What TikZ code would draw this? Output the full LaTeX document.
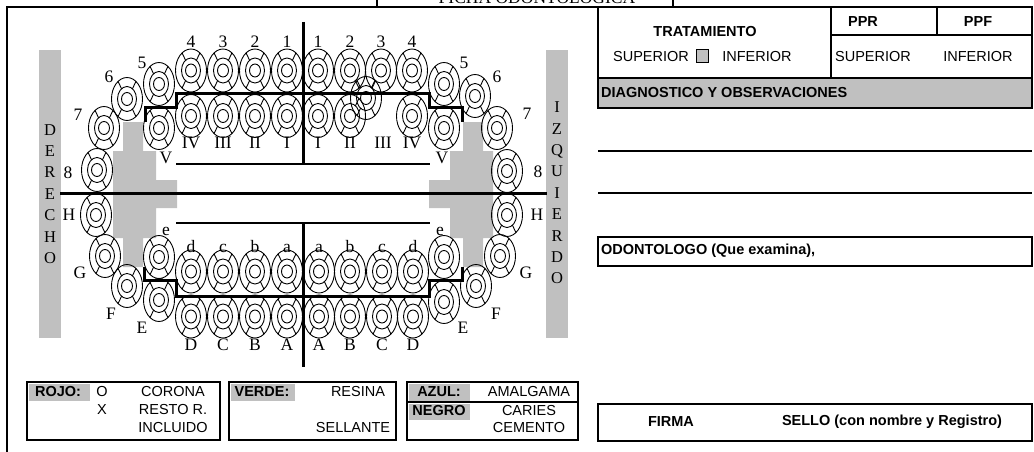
\documentclass[tikz,border=0pt]{standalone}
\usepackage{fontspec}
\setmainfont{Liberation Serif}
\setsansfont{Liberation Sans}
\usetikzlibrary{calc}
\definecolor{gris}{RGB}{192,192,192}
\tikzset{
  diente/.style={line width=0.9pt},
  marco/.style={line width=2pt},
  grueso/.style={line width=3pt},
  num/.style={inner sep=0pt, font=\fontsize{17.5}{19}\selectfont},
  lado/.style={inner sep=0pt, align=center, font=\fontsize{16.5}{21.4}\selectfont},
  txt/.style={inner sep=0pt, font=\sffamily\fontsize{14.5}{17}\selectfont},
  txtb/.style={inner sep=0pt, font=\sffamily\bfseries\fontsize{14.5}{17}\selectfont},
}
\def\pieza(#1,#2){\draw[diente] (#1,#2) ellipse [x radius=15.5pt, y radius=21.5pt] (#1,#2) ellipse [x radius=9.5pt, y radius=12.5pt] (#1,#2) ellipse [x radius=5.5pt, y radius=6.5pt];
  \draw[diente] (#1,#2) ++(5.45,10.2) -- ++(3.45,7.4) (#1,#2) ++(-5.45,10.2) -- ++(-3.45,7.4) (#1,#2) ++(5.45,-10.2) -- ++(3.45,-7.4) (#1,#2) ++(-5.45,-10.2) -- ++(-3.45,-7.4);}

\begin{document}
\begin{tikzpicture}[x=1pt,y=-1pt]
			%%%%% START %%%%%
			\useasboundingbox (0,0) rectangle (1034,452);
			
			\draw[marco] (7,452) -- (7,7) -- (1032,7);
			\draw[marco] (377,0) -- (377,7);
			\draw[marco] (673,0) -- (673,7);
			\node[num, anchor=base] (ficha) at (537,3.5) {FICHA ODONTOLOGICA};
			
			%%%%% ODONTOGRAMA %%%%%
			\fill[gris] (39,50) rectangle (61,338);
			\fill[gris] (546,50) rectangle (568,338);
			\node[lado] (derecho) at (50,194) {D\\E\\R\\E\\C\\H\\O};
			\node[lado] (izquierdo) at (557,193) {I\\Z\\Q\\U\\I\\E\\R\\D\\O};
			
			\fill[gris] (123,122) -- (143,122) -- (143,151) -- (156,151) -- (156,180) -- (177,180) -- (177,208) -- (156,208) -- (156,238) -- (143,238) -- (143,267) -- (123,267) -- (123,238) -- (113,238) -- (113,151) -- (123,151) -- cycle;
			\fill[gris] (463,122) -- (483,122) -- (483,151) -- (493,151) -- (493,238) -- (483,238) -- (483,267) -- (463,267) -- (463,238) -- (450,238) -- (450,208) -- (429,208) -- (429,180) -- (450,180) -- (450,151) -- (463,151) -- cycle;
			
			\pieza(191,70.5) \pieza(223,70.5) \pieza(255,70.5) \pieza(287,70.5)
			\pieza(318,70.5) \pieza(350,70.5) \pieza(381,70.5) \pieza(412,70.5)
			\pieza(191,116) \pieza(223,116) \pieza(255,116) \pieza(287,116)
			\pieza(318,116) \pieza(350,116) \pieza(366,98) \pieza(412,116)
			\pieza(159,84) \pieza(127,99) \pieza(104,128) \pieza(97,170) \pieza(159,128)
			\pieza(444,84) \pieza(475,96) \pieza(497,128) \pieza(507,171) \pieza(444,128)
			
			\pieza(96,215) \pieza(105,256) \pieza(127,286) \pieza(159,300) \pieza(159,257)
			\pieza(507,215) \pieza(500,256) \pieza(476,286) \pieza(444,302) \pieza(444,257)
			\pieza(191,271.5) \pieza(223,271.5) \pieza(255,271.5) \pieza(287,271.5)
			\pieza(319,271.5) \pieza(350,271.5) \pieza(382,271.5) \pieza(413,271.5)
			\pieza(191,316.5) \pieza(223,316.5) \pieza(255,316.5) \pieza(287,316.5)
			\pieza(319,316.5) \pieza(350,316.5) \pieza(382,316.5) \pieza(413,316.5)
			
			\draw[grueso] (303,22) -- (303,164);
			\draw[grueso] (303,223) -- (303,367);
			\draw[grueso] (60,193) -- (547,193);
			\draw[marco] (176,164) -- (430,164);
			\draw[marco] (176,223) -- (430,223);
			\draw[grueso] (145,122) -- (145,107) -- (176,107) -- (176,94) -- (429,94) -- (429,107) -- (462,107) -- (462,122);
			\draw[grueso] (144,267) -- (144,280) -- (176,280) -- (176,296) -- (429,296) -- (429,280) -- (462,280) -- (462,267);
			
			\node[num] (s4i) at (191,42) {4};
			\node[num] (s3i) at (223,42) {3};
			\node[num] (s2i) at (255,42) {2};
			\node[num] (s1i) at (287,42) {1};
			\node[num] (s1d) at (318,42) {1};
			\node[num] (s2d) at (350,42) {2};
			\node[num] (s3d) at (381,42) {3};
			\node[num] (s4d) at (412,42) {4};
			\node[num] (s5i) at (142,63) {5};
			\node[num] (s6i) at (109,77) {6};
			\node[num] (s7i) at (78,115) {7};
			\node[num] (s8i) at (68,173) {8};
			\node[num] (s5d) at (464,63) {5};
			\node[num] (s6d) at (497,77) {6};
			\node[num] (s7d) at (527,114) {7};
			\node[num] (s8d) at (538,172) {8};
			\node[num] (rVi) at (166,158) {V};
			\node[num] (rVd) at (442,158) {V};
			\node[num] (rIVi) at (191,143) {IV};
			\node[num] (rIIIi) at (223,143) {III};
			\node[num] (rIIi) at (255,143) {II};
			\node[num] (rIi) at (287,143) {I};
			\node[num] (rId) at (318,143) {I};
			\node[num] (rIId) at (350,143) {II};
			\node[num] (rIIId) at (383,143) {III};
			\node[num] (rIVd) at (412,143) {IV};
			
			\node[num] (iHi) at (69,215) {H};
			\node[num] (iGi) at (80,273) {G};
			\node[num] (iFi) at (111,314) {F};
			\node[num] (iEi) at (142,328) {E};
			\node[num, anchor=base] (lei) at (166,235) {e};
			\node[num] (iHd) at (537,215) {H};
			\node[num] (iGd) at (526,273) {G};
			\node[num] (iFd) at (496,314) {F};
			\node[num] (iEd) at (463,328) {E};
			\node[num, anchor=base] (led) at (440,235) {e};
			\node[num, anchor=base] (ldi) at (191,252) {d};
			\node[num, anchor=base] (lci) at (223,252) {c};
			\node[num, anchor=base] (lbi) at (255,252) {b};
			\node[num, anchor=base] (lai) at (287,252) {a};
			\node[num, anchor=base] (lad) at (319,252) {a};
			\node[num, anchor=base] (lbd) at (350,252) {b};
			\node[num, anchor=base] (lcd) at (382,252) {c};
			\node[num, anchor=base] (ldd) at (413,252) {d};
			\node[num] (iDi) at (191,345) {D};
			\node[num] (iCi) at (223,345) {C};
			\node[num] (iBi) at (255,345) {B};
			\node[num] (iAi) at (287,345) {A};
			\node[num] (iAd) at (319,345) {A};
			\node[num] (iBd) at (350,345) {B};
			\node[num] (iCd) at (382,345) {C};
			\node[num] (iDd) at (413,345) {D};
			
			%%%%% LEYENDA %%%%%
			\fill[gris] (29,384) rectangle (90,401);
			\fill[gris] (231,384) rectangle (295,401);
			\fill[gris] (409,384) rectangle (470,401);
			\fill[gris] (409,404) rectangle (470,420);
			\draw[marco] (27,382) rectangle (220,440);
			\draw[marco] (229,382) rectangle (396,440);
			\draw[marco] (407,382) rectangle (578,440);
			\draw[marco] (407,402) -- (578,402);
			\node[txtb] (rojo) at (58,392) {ROJO:};
			\node[txt] (o) at (102,392) {O};
			\node[txt] (corona) at (173,392) {CORONA};
			\node[txt] (x) at (102,410) {X};
			\node[txt] (resto) at (173,410) {RESTO R.};
			\node[txt] (incluido) at (173,428) {INCLUIDO};
			\node[txtb] (verde) at (262,392) {VERDE:};
			\node[txt] (resina) at (358,392) {RESINA};
			\node[txt] (sellante) at (353,428) {SELLANTE};
			\node[txtb] (azul) at (439,392) {AZUL:};
			\node[txt] (amalgama) at (529,392) {AMALGAMA};
			\node[txtb] (negro) at (439,411) {NEGRO};
			\node[txt] (caries) at (529,411) {CARIES};
			\node[txt] (cemento) at (529,428) {CEMENTO};
			
			%%%%% DATOS %%%%%
			\draw[marco] (598,7) rectangle (1032,78);
			\draw[marco] (831,7) -- (831,78);
			\draw[marco] (831,35) -- (1032,35);
			\draw[marco] (937,7) -- (937,35);
			\node[txtb] (tratamiento) at (705,32) {TRATAMIENTO};
			\node[txt] (supt) at (651,57) {SUPERIOR};
			\draw[fill=gris, line width=0.8pt] (696,49) rectangle (708,62);
			\node[txt] (inft) at (757,57) {INFERIOR};
			\node[txtb] (ppr) at (863,22) {PPR};
			\node[txtb] (ppf) at (978,22) {PPF};
			\node[txt] (supp) at (873,57) {SUPERIOR};
			\node[txt] (infp) at (978,57) {INFERIOR};
			\draw[marco, fill=gris] (598,78) rectangle (1032,108);
			\node[txtb, anchor=west] (diag) at (601,93) {DIAGNOSTICO Y OBSERVACIONES};
			\draw[marco] (598,151) -- (1032,151);
			\draw[marco] (598,193) -- (1032,193);
			\draw[marco] (598,237) rectangle (1032,266);
			\node[txtb, anchor=west] (odonto) at (601,251) {ODONTOLOGO (Que examina),};
			\draw[marco] (598,404) rectangle (1032,441);
			\node[txtb] (firma) at (671,422) {FIRMA};
			\node[txtb] (sello) at (892,422) {SELLO (con nombre y Registro)};
			
			%%%%% END %%%%%
		\end{tikzpicture}
\end{document}
